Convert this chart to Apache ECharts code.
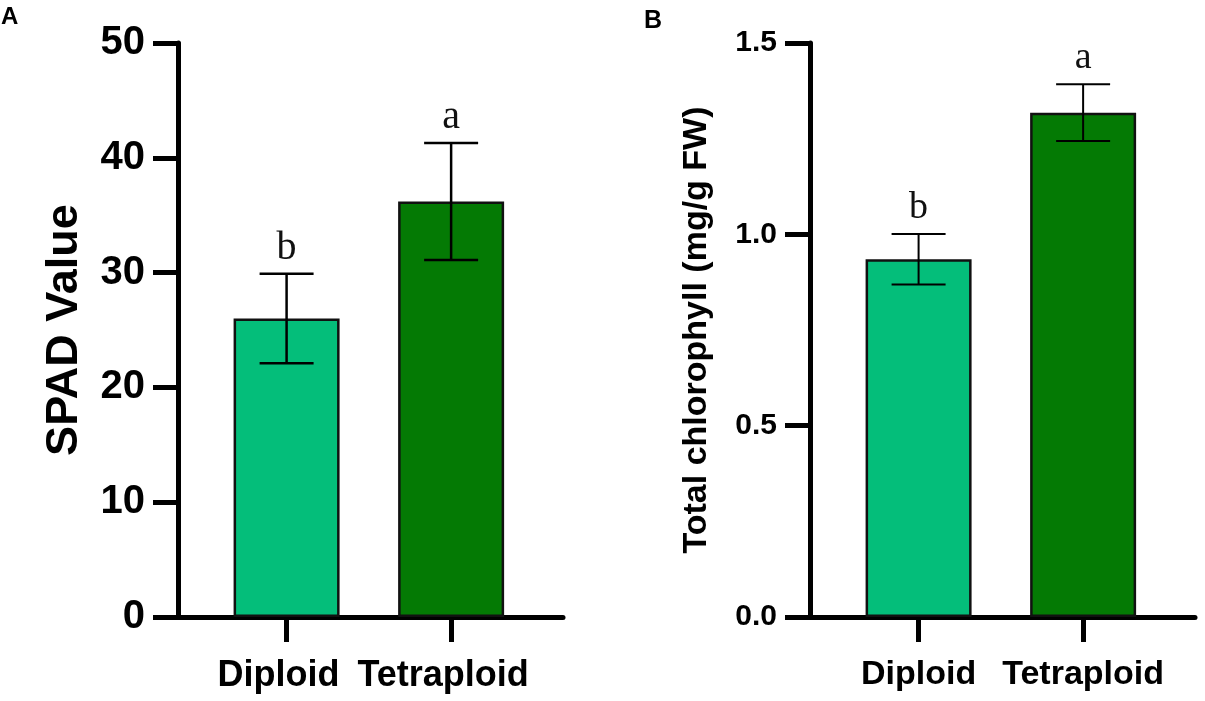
<!DOCTYPE html>
<html lang="en">

<head>
    <meta charset="UTF-8">
    <title>SPAD and chlorophyll</title>
    <script src="https://cdn.jsdelivr.net/npm/echarts@6/dist/echarts.min.js"></script>
    <style>
        body,
        html {
            padding: 0;
            margin: 0;
            background: #fff;
        }
    </style>
</head>

<body>
    <div style="width:1205px;height:701px;" id='chart'></div>
    <script>
        // data
        var categories = ['Diploid', 'Tetraploid'];
        var barColors = ['#04be7a', '#047a04'];

        var spadMean = [26.0, 36.2];
        var spadErr = [3.9, 5.1];
        var spadLetters = ['b', 'a'];

        var chlMean = [0.935, 1.318];
        var chlErr = [0.066, 0.074];
        var chlLetters = ['b', 'a'];

        var sans = "'Liberation Sans', Arial, sans-serif";
        var serif = "'Liberation Serif', 'Times New Roman', serif";

        var myChart = echarts.init(document.getElementById('chart'));

        function barData(means) {
            return means.map(function (v, i) {
                return { value: [i + 1, v], itemStyle: { color: barColors[i] } };
            });
        }

        function errData(means, errs) {
            return means.map(function (v, i) {
                return [i + 1, v, errs[i]];
            });
        }

        function errRender(letters, lw, fontSize, lift) {
            return function (params, api) {
                var x = api.value(0), m = api.value(1), e = api.value(2);
                var top = api.coord([x, m + e]);
                var bot = api.coord([x, m - e]);
                var hw = 27;
                var st = { stroke: '#000', lineWidth: lw };
                return {
                    type: 'group',
                    children: [
                        { type: 'line', shape: { x1: top[0], y1: top[1], x2: bot[0], y2: bot[1] }, style: st },
                        { type: 'line', shape: { x1: top[0] - hw, y1: top[1], x2: top[0] + hw, y2: top[1] }, style: st },
                        { type: 'line', shape: { x1: bot[0] - hw, y1: bot[1], x2: bot[0] + hw, y2: bot[1] }, style: st },
                        {
                            type: 'text',
                            style: {
                                text: letters[params.dataIndex],
                                x: top[0], y: top[1] - lift,
                                align: 'center', verticalAlign: 'bottom',
                                font: fontSize + 'px ' + serif,
                                fill: '#111'
                            }
                        }
                    ]
                };
            };
        }

        function xAxisFor(idx, labelSize, pad) {
            return {
                type: 'value',
                gridIndex: idx,
                min: 0.34,
                max: 2.68,
                splitLine: { show: false },
                axisLine: { lineStyle: { color: '#000', width: 5 } },
                axisTick: { customValues: [1, 2], length: 25, lineStyle: { color: '#000', width: 5 } },
                axisLabel: {
                    customValues: [1, 2],
                    formatter: function (v) { return categories[Math.round(v) - 1] || ''; },
                    color: '#000',
                    fontFamily: sans,
                    fontWeight: 'bold',
                    fontSize: labelSize,
                    margin: 41,
                    padding: pad
                }
            };
        }

        function yAxisFor(idx, max, interval, labelSize, name, nameSize, nameGap, digits) {
            return {
                type: 'value',
                gridIndex: idx,
                min: 0,
                max: max,
                interval: interval,
                name: name,
                nameLocation: 'middle',
                nameRotate: 90,
                nameGap: nameGap,
                nameTextStyle: { color: '#000', fontFamily: sans, fontWeight: 'bold', fontSize: nameSize },
                splitLine: { show: false },
                axisLine: { show: true, lineStyle: { color: '#000', width: 5 } },
                axisTick: { show: true, length: 25, lineStyle: { color: '#000', width: 5 } },
                axisLabel: {
                    color: '#000',
                    fontFamily: sans,
                    fontWeight: 'bold',
                    fontSize: labelSize,
                    margin: 33,
                    formatter: function (v) { return v.toFixed(digits); }
                }
            };
        }

        myChart.setOption({
            animation: false,
            grid: [
                { left: 178, right: 642, top: 43, bottom: 84 },
                { left: 810, right: 10, top: 43, bottom: 84 }
            ],
            xAxis: [
                xAxisFor(0, 36, [0, 16, 0, 0]),
                xAxisFor(1, 34, 0)
            ],
            yAxis: [
                yAxisFor(0, 50, 10, 40, 'SPAD Value', 45, 91, 0),
                yAxisFor(1, 1.5, 0.5, 30, 'Total chlorophyll (mg/g FW)', 34, 96, 1)
            ],
            graphic: [
                { type: 'text', left: 1, top: 5, style: { text: 'A', font: 'bold 24px ' + sans, fill: '#000' } },
                { type: 'text', left: 644, top: 9, style: { text: 'B', font: 'bold 25px ' + sans, fill: '#000' } }
            ],
            series: [
                {
                    type: 'bar',
                    xAxisIndex: 0, yAxisIndex: 0,
                    barWidth: 106,
                    itemStyle: { borderColor: '#111', borderWidth: 2.5 },
                    data: barData(spadMean)
                },
                {
                    type: 'custom',
                    xAxisIndex: 0, yAxisIndex: 0,
                    z: 5,
                    renderItem: errRender(spadLetters, 2.5, 40, 5),
                    data: errData(spadMean, spadErr)
                },
                {
                    type: 'bar',
                    xAxisIndex: 1, yAxisIndex: 1,
                    barWidth: 106,
                    itemStyle: { borderColor: '#111', borderWidth: 2.5 },
                    data: barData(chlMean)
                },
                {
                    type: 'custom',
                    xAxisIndex: 1, yAxisIndex: 1,
                    z: 5,
                    renderItem: errRender(chlLetters, 2, 38, 7),
                    data: errData(chlMean, chlErr)
                }
            ]
        });
    </script>
</body>

</html>
